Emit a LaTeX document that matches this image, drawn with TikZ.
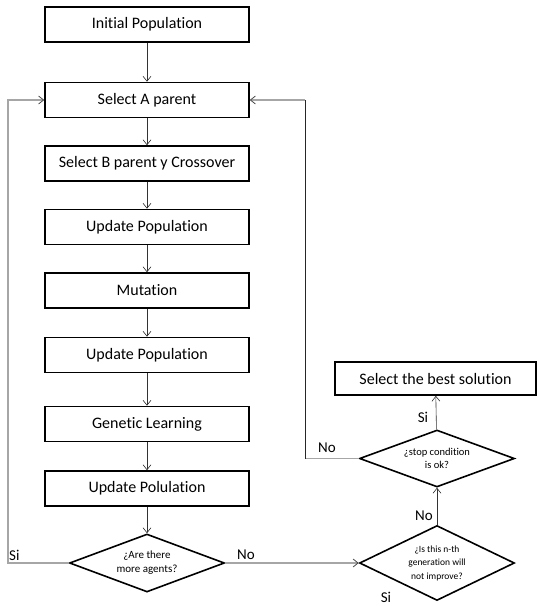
\documentclass[tikz,border=0pt]{standalone}
\usepackage{fontspec}
\setmainfont{Carlito}[Ligatures=NoCommon]
\usetikzlibrary{shapes.geometric,arrows.meta}

\begin{document}
\begin{tikzpicture}[x=1pt,y=-1pt,
  stepbox/.style={draw=black, line width=1.6pt, minimum width=204pt, minimum height=35pt,
    inner sep=0pt, font=\fontsize{16}{18}\selectfont},
  decision/.style={draw=black, diamond, aspect=2, line width=1.6pt, minimum width=155pt,
    minimum height=58pt, inner sep=0pt, align=center},
  flow/.style={draw=black!80, line width=0.6pt, -{Straight Barb[length=5pt,width=8pt]}},
  back/.style={draw=black!35, line width=1.4pt},
  backtip/.style={back, -{Straight Barb[length=5pt,width=8pt,color=black!70,line width=0.8pt]}},
  vline/.style={draw=black!85, line width=0.9pt},
  lbl/.style={font=\fontsize{15}{17}\selectfont, inner sep=0pt}
]
\useasboundingbox (0,0) rectangle (537,606);

% main column of steps
\node[stepbox] (init) at (147,24.5) {Initial Population};
\node[stepbox] (selA) at (147,100)  {Select A parent};
\node[stepbox] (selB) at (147,163.5) {Select B parent y Crossover};
\node[stepbox] (upd1) at (147,227)  {Update Population};
\node[stepbox] (mut)  at (147,290.5) {Mutation};
\node[stepbox] (upd2) at (147,355)  {Update Population};
\node[stepbox] (gen)  at (147,424)  {Genetic Learning};
\node[stepbox] (upd3) at (147,488.5) {Update Polulation};

% decisions
\node[decision, font=\fontsize{11}{14}\selectfont] (agents) at (147,563)
  {¿Are there\\more agents?};
\node[decision, minimum height=75pt, font=\fontsize{9.5}{13.5}\selectfont] (improve) at (437,563)
  {¿Is this n-th\\generation will\\not improve?};
\node[decision, minimum height=57pt, font=\fontsize{10.5}{13}\selectfont] (stop) at (437,458.5)
  {¿stop condition\\is ok?};

\node[stepbox, minimum width=201pt, minimum height=33pt] (best) at (435.5,378.5)
  {Select the best solution};

% straight flow
\draw[flow] (init) -- (selA);
\draw[flow] (selA) -- (selB);
\draw[flow] (selB) -- (upd1);
\draw[flow] (upd1) -- (mut);
\draw[flow] (mut)  -- (upd2);
\draw[flow] (upd2) -- (gen);
\draw[flow] (gen)  -- (upd3);
\draw[flow] (upd3) -- (agents);
\draw[flow] (improve) -- (stop);
\draw[flow] (stop) -- (best);

% loop back on the left
\coordinate (lb) at (8,563);
\coordinate (lt) at (8,100);
\draw[backtip] (agents.west) -- (lb) -- (lt) -- (selA.west);

% to the generation check
\draw[backtip] (agents.east) -- (improve.west);

% loop back on the right
\coordinate (rb) at (305,458.5);
\coordinate (rt) at (305,100);
\draw[back] (stop.west) -- (rb);
\draw[vline] (rb) -- (rt);
\draw[backtip] (rt) -- (selA.east);

% labels
\node[lbl, anchor=south west] (siA) at (9,561) {Si};
\node[lbl] (noA) at (246,555) {No};
\node[lbl] (noB) at (424,516) {No};
\node[lbl] (siB) at (423,417) {Si};
\node[lbl] (noC) at (327,448) {No};
\node[lbl] (siC) at (386,597) {Si};
\end{tikzpicture}
\end{document}
